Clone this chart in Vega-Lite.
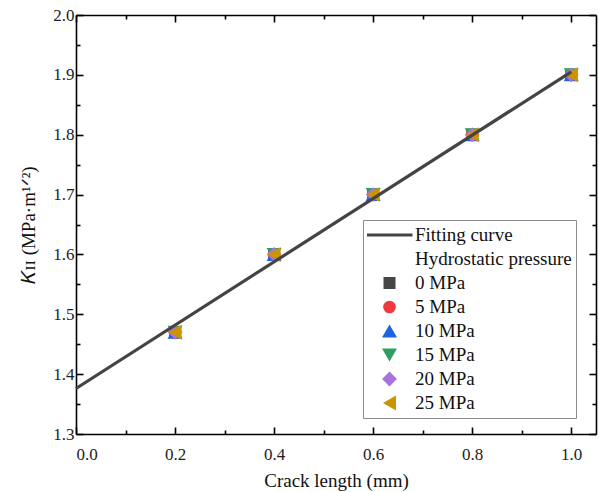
{
  "$schema": "https://vega.github.io/schema/vega-lite/v6.json",
  "autosize": "none",
  "width": 520,
  "height": 419,
  "padding": {"left": 76, "top": 15, "right": 3, "bottom": 58},
  "background": "white",
  "config": {
    "view": {"stroke": null},
    "font": "Liberation Serif",
    "axis": {
      "grid": false,
      "domainColor": "#000000",
      "domainWidth": 1.6,
      "tickColor": "#000000",
      "tickWidth": 1.6,
      "labelFont": "Liberation Serif",
      "labelFontSize": 17,
      "labelColor": "#222222",
      "titleFont": "Liberation Serif",
      "titleFontSize": 19,
      "titleFontWeight": "normal",
      "titleColor": "#111111"
    },
    "legend": {
      "labelFont": "Liberation Serif",
      "titleFont": "Liberation Serif"
    }
  },
  "datasets": {
    "fit": [
      {"length": 0.0, "k": 1.376},
      {"length": 1.0, "k": 1.905}
    ],
    "pts": [
      {"series": "0 MPa", "length": 0.2, "k": 1.47},
      {"series": "0 MPa", "length": 0.4, "k": 1.60},
      {"series": "0 MPa", "length": 0.6, "k": 1.70},
      {"series": "0 MPa", "length": 0.8, "k": 1.80},
      {"series": "0 MPa", "length": 1.0, "k": 1.90},
      {"series": "5 MPa", "length": 0.2, "k": 1.47},
      {"series": "5 MPa", "length": 0.4, "k": 1.60},
      {"series": "5 MPa", "length": 0.6, "k": 1.70},
      {"series": "5 MPa", "length": 0.8, "k": 1.80},
      {"series": "5 MPa", "length": 1.0, "k": 1.90},
      {"series": "10 MPa", "length": 0.2, "k": 1.47},
      {"series": "10 MPa", "length": 0.4, "k": 1.60},
      {"series": "10 MPa", "length": 0.6, "k": 1.70},
      {"series": "10 MPa", "length": 0.8, "k": 1.80},
      {"series": "10 MPa", "length": 1.0, "k": 1.90},
      {"series": "15 MPa", "length": 0.2, "k": 1.47},
      {"series": "15 MPa", "length": 0.4, "k": 1.60},
      {"series": "15 MPa", "length": 0.6, "k": 1.70},
      {"series": "15 MPa", "length": 0.8, "k": 1.80},
      {"series": "15 MPa", "length": 1.0, "k": 1.90},
      {"series": "20 MPa", "length": 0.2, "k": 1.47},
      {"series": "20 MPa", "length": 0.4, "k": 1.60},
      {"series": "20 MPa", "length": 0.6, "k": 1.70},
      {"series": "20 MPa", "length": 0.8, "k": 1.80},
      {"series": "20 MPa", "length": 1.0, "k": 1.90},
      {"series": "25 MPa", "length": 0.2, "k": 1.47},
      {"series": "25 MPa", "length": 0.4, "k": 1.60},
      {"series": "25 MPa", "length": 0.6, "k": 1.70},
      {"series": "25 MPa", "length": 0.8, "k": 1.80},
      {"series": "25 MPa", "length": 1.0, "k": 1.90}
    ]
  },
  "layer": [
    {
      "data": {"name": "pts"},
      "mark": {"type": "point", "filled": true, "opacity": 1},
      "encoding": {
        "x": {
          "field": "length", "type": "quantitative",
          "scale": {"domain": [0, 1.05], "nice": false, "zero": false},
          "axis": {
            "orient": "top", "title": null, "labels": false,
            "values": [0, 0.1, 0.2, 0.3, 0.4, 0.5, 0.6, 0.7, 0.8, 0.9, 1.0],
            "tickSize": {"condition": {"test": "abs(datum.value*5 - round(datum.value*5)) < 0.000001", "value": -7}, "value": -4}
          }
        },
        "y": {
          "field": "k", "type": "quantitative",
          "scale": {"domain": [1.3, 2.0], "nice": false, "zero": false},
          "axis": {
            "orient": "right", "title": null, "labels": false,
            "values": [1.3, 1.35, 1.4, 1.45, 1.5, 1.55, 1.6, 1.65, 1.7, 1.75, 1.8, 1.85, 1.9, 1.95, 2.0],
            "tickSize": {"condition": {"test": "abs(datum.value*10 - round(datum.value*10)) < 0.000001", "value": -7}, "value": -4}
          }
        },
        "color": {
          "field": "series", "type": "nominal",
          "scale": {
            "domain": ["Fitting curve", "Hydrostatic pressure", "0 MPa", "5 MPa", "10 MPa", "15 MPa", "20 MPa", "25 MPa"],
            "range": ["#444444", "rgba(0,0,0,0)", "#464646", "#ee3a3f", "#1c64e0", "#2e9e63", "#a973dd", "#cc9400"]
          },
          "legend": {
            "title": null,
            "orient": "none",
            "legendX": 287,
            "legendY": 205,
            "strokeColor": "#8a8a8a",
            "fillColor": "white",
            "padding": 4,
            "labelFont": "Liberation Serif",
            "labelFontSize": 19,
            "labelColor": "#111111",
            "labelOffset": 16,
            "labelLimit": 300,
            "symbolOffset": 13,
            "clipHeight": 22,
            "rowPadding": 2,
            "symbolOpacity": 1,
            "encode": {
              "symbols": {
                "update": {
                  "stroke": {"signal": "datum.value === 'Fitting curve' ? '#444444' : 'transparent'"},
                  "strokeWidth": {"signal": "datum.value === 'Fitting curve' ? 3 : 0"}
                }
              }
            }
          }
        },
        "shape": {
          "field": "series", "type": "nominal",
          "scale": {
            "domain": ["Fitting curve", "Hydrostatic pressure", "0 MPa", "5 MPa", "10 MPa", "15 MPa", "20 MPa", "25 MPa"],
            "range": ["stroke", "circle", "square", "circle", "triangle-up", "triangle-down", "diamond", "triangle-left"]
          }
        },
        "size": {
          "field": "series", "type": "nominal",
          "scale": {
            "type": "ordinal",
            "domain": ["Fitting curve", "Hydrostatic pressure", "0 MPa", "5 MPa", "10 MPa", "15 MPa", "20 MPa", "25 MPa"],
            "range": [2116, 0, 144, 160, 225, 225, 220, 225]
          }
        }
      }
    },
    {
      "data": {"name": "fit"},
      "mark": {"type": "line", "color": "#444444", "strokeWidth": 3.2},
      "encoding": {
        "x": {
          "field": "length", "type": "quantitative",
          "scale": {"domain": [0, 1.05], "nice": false, "zero": false},
          "axis": {
            "orient": "bottom", "title": "Crack length (mm)",
            "values": [0, 0.1, 0.2, 0.3, 0.4, 0.5, 0.6, 0.7, 0.8, 0.9, 1.0],
            "labelExpr": "abs(datum.value*5 - round(datum.value*5)) < 0.000001 ? format(datum.value, '.1f') : ''",
            "tickSize": {"condition": {"test": "abs(datum.value*5 - round(datum.value*5)) < 0.000001", "value": -7}, "value": -4},
            "labelPadding": 19,
            "titlePadding": 9
          }
        },
        "y": {
          "field": "k", "type": "quantitative",
          "scale": {"domain": [1.3, 2.0], "nice": false, "zero": false},
          "axis": {
            "orient": "left", "title": "𝐾ɪɪ (MPa·m¹ᐟ²)",
            "values": [1.3, 1.35, 1.4, 1.45, 1.5, 1.55, 1.6, 1.65, 1.7, 1.75, 1.8, 1.85, 1.9, 1.95, 2.0],
            "labelExpr": "abs(datum.value*10 - round(datum.value*10)) < 0.000001 ? format(datum.value, '.1f') : ''",
            "tickSize": {"condition": {"test": "abs(datum.value*10 - round(datum.value*10)) < 0.000001", "value": -7}, "value": -4},
            "labelPadding": 9,
            "titlePadding": 14
          }
        }
      }
    }
  ],
  "resolve": {"axis": {"x": "independent", "y": "independent"}}
}
